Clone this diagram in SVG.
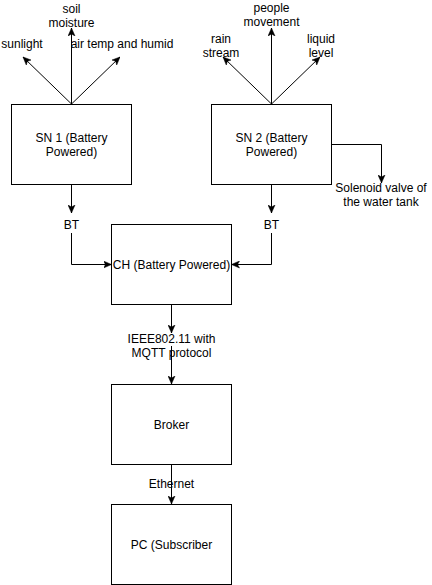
<svg xmlns="http://www.w3.org/2000/svg" width="432" height="585" viewBox="0 0 432 585">
<style>
.box{fill:#fff;stroke:#000;stroke-width:1}
.t{font-family:"Liberation Sans",Arial,sans-serif;font-size:12px;fill:#000;text-anchor:middle}
.e{fill:none;stroke:#000;stroke-width:1}
</style>
<defs>
<marker id="arr" viewBox="0 0 8 8" refX="8" refY="4" markerWidth="8" markerHeight="8" markerUnits="userSpaceOnUse" orient="auto">
<path d="M0,0.5 L8,4 L0,7.5 L2,4 z" fill="#000" stroke="#000" stroke-width="0.5"/>
</marker>
</defs>
<rect width="432" height="585" fill="#fff"/>
<g id="connectors">
<path class="e" d="M71.5,104 L71.5,28" marker-end="url(#arr)"/>
<path class="e" d="M71.5,104 L23,57" marker-end="url(#arr)"/>
<path class="e" d="M71.5,104 L120,57" marker-end="url(#arr)"/>
<path class="e" d="M271.5,104 L271.5,28" marker-end="url(#arr)"/>
<path class="e" d="M271.5,104 L223,57" marker-end="url(#arr)"/>
<path class="e" d="M271.5,104 L320,57" marker-end="url(#arr)"/>
<path class="e" d="M331.5,144.5 L381.5,144.5 L381.5,183" marker-end="url(#arr)"/>
<path class="e" d="M71.5,184 L71.5,213" marker-end="url(#arr)"/>
<path class="e" d="M71.5,233 L71.5,264.5 L111.5,264.5" marker-end="url(#arr)"/>
<path class="e" d="M271.5,184 L271.5,213" marker-end="url(#arr)"/>
<path class="e" d="M271.5,233 L271.5,264.5 L231.5,264.5" marker-end="url(#arr)"/>
<path class="e" d="M171.5,304 L171.5,333" marker-end="url(#arr)"/>
<path class="e" d="M171.5,346 L171.5,384" marker-end="url(#arr)"/>
<path class="e" d="M171.5,464 L171.5,504" marker-end="url(#arr)"/>
</g>
<g id="sunlight"><text class="t" x="22" y="48">sunlight</text></g>
<g id="soil"><text class="t" x="71.5" y="12.5">soil</text><text class="t" x="71.5" y="26.5">moisture</text></g>
<g id="airtemp"><text class="t" x="122" y="48">air temp and humid</text></g>
<g id="rain"><text class="t" x="221" y="42.5">rain</text><text class="t" x="221" y="56.5">stream</text></g>
<g id="people"><text class="t" x="271.5" y="12">people</text><text class="t" x="271.5" y="26">movement</text></g>
<g id="liquid"><text class="t" x="321" y="42.5">liquid</text><text class="t" x="321" y="56.5">level</text></g>
<g id="sn1"><rect class="box" x="11.5" y="104.5" width="120" height="80"/><text class="t" x="71.5" y="141.5">SN 1 (Battery</text><text class="t" x="71.5" y="155.5">Powered)</text></g>
<g id="sn2"><rect class="box" x="211.5" y="104.5" width="120" height="80"/><text class="t" x="271.5" y="141.5">SN 2 (Battery</text><text class="t" x="271.5" y="155.5">Powered)</text></g>
<g id="solenoid"><text class="t" x="381" y="192">Solenoid valve of</text><text class="t" x="381" y="206">the water tank</text></g>
<g id="bt1"><text class="t" x="71.5" y="229">BT</text></g>
<g id="bt2"><text class="t" x="271.5" y="229">BT</text></g>
<g id="ch"><rect class="box" x="111.5" y="224.5" width="120" height="80"/><text class="t" x="171.5" y="268.5">CH (Battery Powered)</text></g>
<g id="ieee"><text class="t" x="171.5" y="343">IEEE802.11 with</text><text class="t" x="171.5" y="357">MQTT protocol</text></g>
<g id="broker"><rect class="box" x="111.5" y="384.5" width="120" height="80"/><text class="t" x="171.5" y="428.5">Broker</text></g>
<g id="ethernet"><text class="t" x="171.5" y="488">Ethernet</text></g>
<g id="pc"><rect class="box" x="111.5" y="504.5" width="120" height="80"/><text class="t" x="171.5" y="548.5">PC (Subscriber</text></g>
</svg>
